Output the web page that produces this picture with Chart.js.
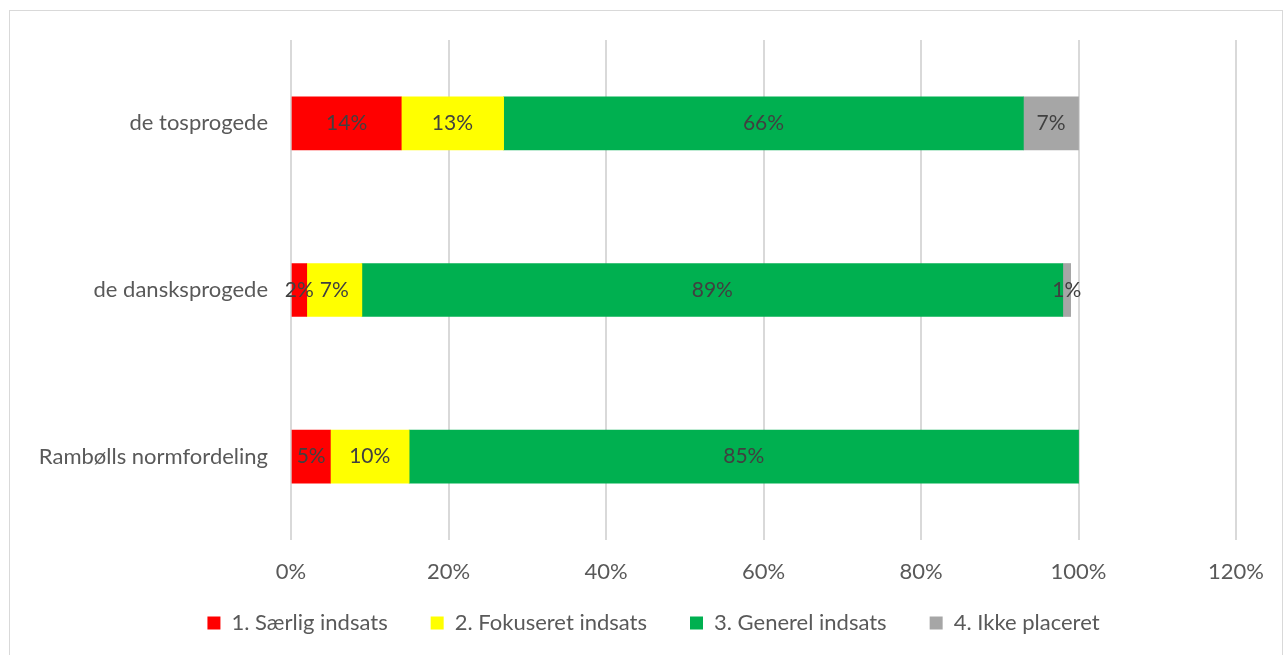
<!DOCTYPE html>
<html>
<head>
<meta charset="utf-8">
<script src="https://cdn.jsdelivr.net/npm/chart.js@4"></script>
<style>
  html, body { margin: 0; padding: 0; background: #fff; overflow: hidden; width: 1285px; height: 655px; }
  #frame {
    position: absolute; left: 9px; top: 10px; width: 1274px; height: 700px;
    border: 1px solid #d9d9d9; box-sizing: border-box; background: #fff;
  }
  #wrap { position: absolute; left: 1px; top: 1px; width: 1272px; height: 651px; }
</style>
</head>
<body>
<div id="frame"><div id="wrap"><canvas id="chart"></canvas></div></div>
<script>
// kategorier (øverst -> nederst)
const categories = ["de tosprogede", "de dansksprogede", "Rambølls normfordeling"];

// andele i procent
const saerlig = [14, 2, 5];
const fokuseret = [13, 7, 10];
const generel = [66, 89, 85];
const ikkePlaceret = [7, 1, 0];

const seriesNames = ["1. Særlig indsats", "2. Fokuseret indsats", "3. Generel indsats", "4. Ikke placeret"];
const seriesColors = ["#FF0000", "#FFFF00", "#00B050", "#A6A6A6"];

const FONT = "Lato, 'Open Sans', sans-serif";

// tekst midt i hver bjælke
const barLabels = {
  id: "barLabels",
  afterDatasetsDraw(chart) {
    const ctx = chart.ctx;
    ctx.save();
    ctx.font = "21px " + FONT;
    ctx.fillStyle = "#404040";
    ctx.textAlign = "center";
    ctx.textBaseline = "middle";
    chart.data.datasets.forEach((ds, i) => {
      chart.getDatasetMeta(i).data.forEach((bar, j) => {
        const v = ds.data[j];
        if (!v) return;
        ctx.fillText(v + "%", (bar.x + bar.base) / 2, bar.y);
      });
    });
    ctx.restore();
  },
};

// flyt forklaringen lidt op og til højre (som i Excel)
const legendShift = {
  id: "legendShift",
  afterLayout(chart) {
    const lg = chart.legend;
    lg.top -= 19; lg.bottom -= 19;
    lg.left += 29; lg.right += 29;
  },
};

const data = [saerlig, fokuseret, generel, ikkePlaceret];

new Chart(document.getElementById("chart"), {
  type: "bar",
  data: {
    labels: categories,
    datasets: data.map((d, i) => ({
      label: seriesNames[i],
      data: d,
      backgroundColor: seriesColors[i],
      borderWidth: 0,
      barThickness: 53,
    })),
  },
  plugins: [barLabels, legendShift],
  options: {
    indexAxis: "y",
    responsive: true,
    maintainAspectRatio: false,
    animation: false,
    layout: { padding: { top: 28, right: 45, bottom: 0, left: 0 } },
    plugins: {
      tooltip: { enabled: false },
      legend: {
        position: "bottom",
        labels: {
          font: { family: FONT, size: 22 },
          color: "#595959",
          boxWidth: 13,
          boxHeight: 13,
          padding: 43,
        },
      },
    },
    scales: {
      x: {
        stacked: true,
        min: 0,
        max: 120,
        ticks: {
          stepSize: 20,
          callback: (v) => v + "%",
          font: { family: FONT, size: 22 },
          color: "#595959",
          padding: 19,
        },
        grid: { color: "#d9d9d9", lineWidth: 2, drawTicks: false },
        border: { display: false },
        afterFit(s) { s.height = 48; },
      },
      y: {
        stacked: true,
        ticks: {
          font: { family: FONT, size: 22 },
          color: "#595959",
          padding: 23,
        },
        grid: { display: false, drawTicks: false },
        border: { display: false },
        afterFit(s) { s.width = 280; s.paddingTop = 0; s.paddingBottom = 0; },
      },
    },
  },
});
</script>
</body>
</html>
